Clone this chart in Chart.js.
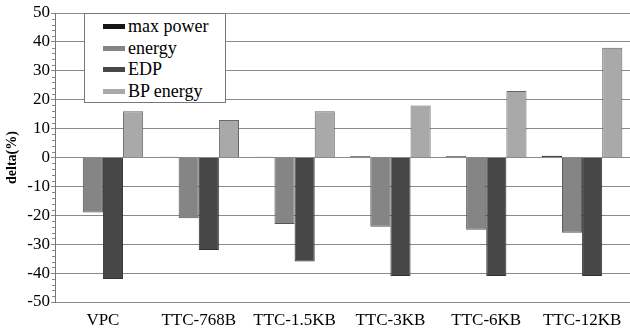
<!DOCTYPE html>
<html><head><meta charset="utf-8">
<script src="https://cdn.jsdelivr.net/npm/chart.js@4"></script>
<style>
html,body{margin:0;padding:0;background:#fff;}
#wrap{position:relative;width:630px;height:330px;}
#legend{position:absolute;left:84px;top:13px;width:142px;height:90px;background:#fff;border:1px solid #777;box-sizing:border-box;font-family:"Liberation Serif",serif;font-size:18px;color:#000;padding-top:2px;}
.item{display:flex;align-items:center;height:21.5px;}
.sw{width:22px;height:5px;margin-left:18px;margin-right:3px;}
</style></head>
<body><div id="wrap"><canvas id="c" width="630" height="330"></canvas>
<div id="legend"></div></div>
<script>
const categories = ["VPC","TTC-768B","TTC-1.5KB","TTC-3KB","TTC-6KB","TTC-12KB"];
const maxPower = [0, 0.3, 0.3, 0.4, 0.4, 0.6];
const energy = [-19, -21, -23, -24, -25, -26];
const edp = [-42, -32, -36, -41, -41, -41];
const bpEnergy = [16, 13, 16, 18, 23, 38];
const seriesNames = ["max power","energy","EDP","BP energy"];
const yTicks = [-50,-40,-30,-20,-10,0,10,20,30,40,50];
const minorStep = 2;

const colors = ["#151515","#858585","#474747","#a9a9a9"];
const borders = ["#000","#555","#333","#666"];
const all = [maxPower, energy, edp, bpEnergy];
const leg = document.getElementById('legend');
seriesNames.forEach((n,i)=>{
  const d=document.createElement('div');d.className='item';
  d.innerHTML='<span class="sw" style="background:'+colors[i]+'"></span><span>'+n+'</span>';
  leg.appendChild(d);
});

const minorTicks = {
  id:'minorTicks',
  afterDraw(c){
    const s=c.scales.y, ctx=c.ctx, x=c.chartArea.left;
    ctx.save();ctx.strokeStyle='#888';ctx.lineWidth=1;
    for(let v=s.min; v<=s.max; v+=minorStep){
      if(v%10===0) continue;
      const y=Math.round(s.getPixelForValue(v))+0.5;
      ctx.beginPath();ctx.moveTo(x-3,y);ctx.lineTo(x,y);ctx.stroke();
    }
    ctx.restore();
  }
};

new Chart(document.getElementById('c'), {
  type:'bar',
  data:{labels:categories, datasets: all.map((v,i)=>({label:seriesNames[i],data:v,backgroundColor:colors[i],borderColor:borders[i],borderWidth:1,categoryPercentage:0.84,barPercentage:1}))},
  options:{
    responsive:false,animation:false,
    layout:{padding:{top:13,right:0,left:0,bottom:0}},
    plugins:{legend:{display:false},tooltip:{enabled:false}},
    scales:{
      x:{grid:{display:false,drawTicks:false},border:{display:false},
         ticks:{color:'#000',font:{family:'Liberation Serif',size:17},padding:8,maxRotation:0,autoSkip:false},
         afterFit(s){s.height=28;}},
      y:{min:-50,max:50,
         afterBuildTicks(s){s.ticks=yTicks.map(v=>({value:v}));},
         grid:{color:'#8a8a8a',lineWidth:1,tickLength:4,drawTicks:true},
         border:{display:true,color:'#777',width:1},
         ticks:{color:'#000',font:{family:'Liberation Serif',size:17},padding:1},
         title:{display:true,text:'delta(%)',color:'#000',font:{family:'Liberation Serif',size:14,weight:'bold'},padding:{top:4,bottom:0}},
         afterFit(s){s.width=55;}}
    }
  },
  plugins:[minorTicks]
});
</script></body></html>
